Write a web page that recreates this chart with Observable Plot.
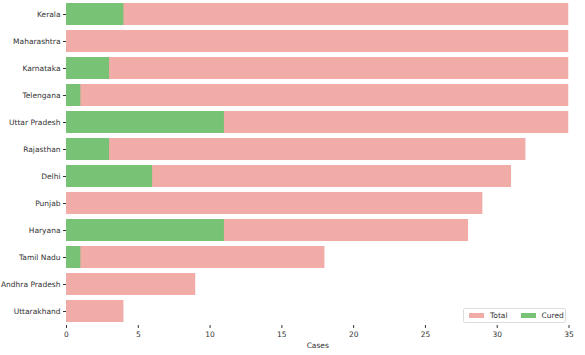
<!DOCTYPE html>
<html><head><meta charset="utf-8">
<script src="https://cdn.jsdelivr.net/npm/d3@7"></script>
<script src="https://cdn.jsdelivr.net/npm/@observablehq/plot@0.6"></script>
<style>
body{margin:0;background:#fff;font-family:"DejaVu Sans",sans-serif;}
#wrap{position:relative;width:585px;height:355px;}
#legend{position:absolute;left:463px;top:308px;width:101px;height:13px;border:1px solid #ddd;border-radius:2px;background:#fff;font-size:7.5px;color:#333;display:flex;align-items:center;}
#legend span.sw{display:inline-block;width:15px;height:5px;margin:0 6px 0 5px;}
</style></head>
<body><div id="wrap"><div id="legend"><span class="sw" style="background:#f2aca8"></span>Total<span class="sw" style="background:#77c274;margin-left:13px"></span>Cured</div></div>
<script>
const states = ["Kerala","Maharashtra","Karnataka","Telengana","Uttar Pradesh","Rajasthan","Delhi","Punjab","Haryana","Tamil Nadu","Andhra Pradesh","Uttarakhand"];
const total = [35,35,35,35,35,32,31,29,28,18,9,4];
const cured = [4,0,3,1,11,3,6,0,11,1,0,0];
const xTicks = [0,5,10,15,20,25,30,35];

const data = states.map((s,i)=>({state:s,total:total[i],cured:cured[i]}));

const chart = Plot.plot({
  width:585, height:355,
  marginTop:0, marginBottom:30, marginLeft:66, marginRight:16.5,
  style:{fontFamily:"DejaVu Sans, sans-serif", fontSize:"7.5px", color:"#333", background:"#fff", overflow:"visible"},
  x:{domain:[0,35], ticks:xTicks, label:"Cases", labelAnchor:"center", labelArrow:"none", labelOffset:22, tickSize:3, tickPadding:3},
  y:{domain:states, padding:0.2, range:[-3.3,327.8], label:null, tickSize:3, tickPadding:3},
  marks:[
    Plot.barX(data,{y:"state", x:"total", fill:"#f2aca8", clip:true}),
    Plot.barX(data,{y:"state", x:"cured", fill:"#77c274", clip:true}),
  ]
});
document.getElementById("wrap").prepend(chart);
</script></body></html>
